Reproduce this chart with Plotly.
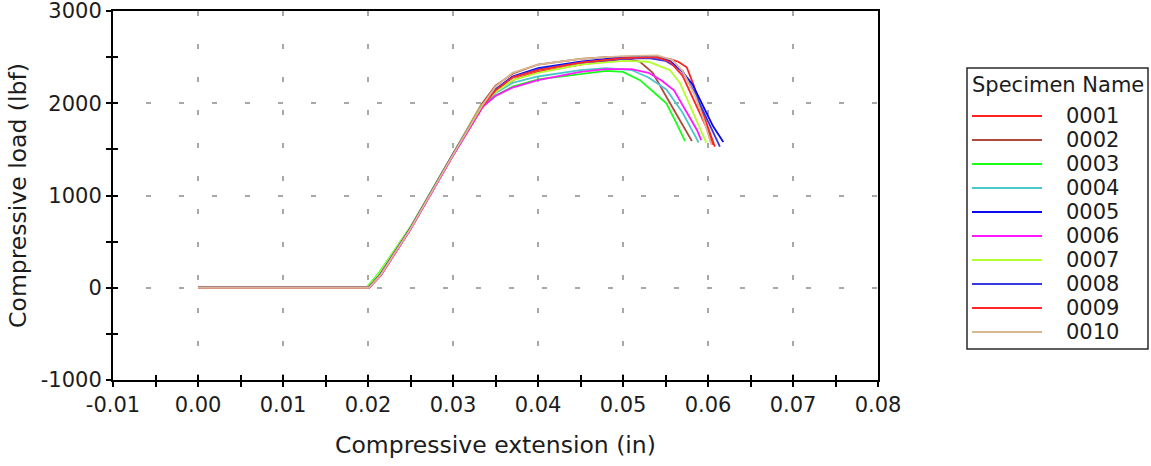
import plotly.graph_objects as go

# ---------------- data ----------------
names = ["0001", "0002", "0003", "0004", "0005", "0006", "0007", "0008", "0009", "0010"]
colors = ["#ff2020", "#b04a40", "#19ff19", "#4cc8c8", "#0a0aee", "#ff19ff",
          "#b4ff30", "#3838e0", "#ff2828", "#d8b890"]

x_0001 = [0.0, 0.0201, 0.0215, 0.025, 0.030, 0.0334, 0.0352, 0.0375, 0.040, 0.045, 0.050, 0.053, 0.0555, 0.0565, 0.0575, 0.0583, 0.0591, 0.0600, 0.0608]
y_0001 = [0, 0, 140, 640, 1440, 1960, 2150, 2270, 2340, 2420, 2480, 2500, 2480, 2450, 2390, 2200, 1970, 1730, 1530]

x_0002 = [0.0, 0.0200, 0.0214, 0.025, 0.030, 0.0333, 0.0350, 0.0370, 0.040, 0.045, 0.048, 0.050, 0.052, 0.0535, 0.0551, 0.0565, 0.0581]
y_0002 = [0, 0, 140, 650, 1450, 1980, 2190, 2320, 2420, 2480, 2500, 2490, 2450, 2330, 2070, 1850, 1590]

x_0003 = [0.0, 0.0198, 0.0212, 0.025, 0.030, 0.0334, 0.0350, 0.0370, 0.040, 0.045, 0.048, 0.050, 0.052, 0.0535, 0.0551, 0.0562, 0.0573]
y_0003 = [0, 0, 150, 660, 1450, 1960, 2080, 2180, 2260, 2320, 2350, 2340, 2250, 2130, 2000, 1800, 1590]

x_0004 = [0.0, 0.0200, 0.0214, 0.025, 0.030, 0.0334, 0.0350, 0.0370, 0.040, 0.045, 0.048, 0.051, 0.053, 0.0551, 0.057, 0.0589]
y_0004 = [0, 0, 140, 650, 1440, 1960, 2110, 2220, 2290, 2360, 2380, 2360, 2280, 2150, 1900, 1575]

x_0005 = [0.0, 0.0201, 0.0215, 0.025, 0.030, 0.0334, 0.0350, 0.0370, 0.040, 0.045, 0.050, 0.054, 0.0555, 0.057, 0.0582, 0.0595, 0.0606, 0.0618]
y_0005 = [0, 0, 140, 640, 1440, 1960, 2150, 2290, 2380, 2450, 2500, 2510, 2460, 2340, 2200, 1950, 1750, 1580]

x_0006 = [0.0, 0.0201, 0.0215, 0.025, 0.030, 0.0335, 0.0350, 0.0370, 0.040, 0.045, 0.048, 0.051, 0.053, 0.0545, 0.056, 0.0575, 0.0587, 0.0592]
y_0006 = [0, 0, 130, 630, 1430, 1960, 2080, 2170, 2250, 2340, 2370, 2370, 2330, 2250, 2140, 1900, 1710, 1600]

x_0007 = [0.0, 0.0199, 0.0213, 0.025, 0.030, 0.0333, 0.0350, 0.0370, 0.040, 0.045, 0.050, 0.053, 0.0555, 0.0567, 0.058, 0.0598]
y_0007 = [0, 0, 150, 660, 1450, 1970, 2120, 2250, 2330, 2420, 2460, 2450, 2360, 2220, 1950, 1570]

x_0008 = [0.0, 0.0200, 0.0214, 0.025, 0.030, 0.0334, 0.0350, 0.0370, 0.040, 0.045, 0.050, 0.053, 0.055, 0.057, 0.0585, 0.0600, 0.0614]
y_0008 = [0, 0, 140, 650, 1450, 1970, 2150, 2280, 2370, 2440, 2480, 2490, 2460, 2350, 2100, 1800, 1530]

x_0009 = [0.0, 0.0201, 0.0215, 0.025, 0.030, 0.0334, 0.0350, 0.0370, 0.040, 0.045, 0.050, 0.054, 0.0555, 0.057, 0.0585, 0.060, 0.0606]
y_0009 = [0, 0, 140, 640, 1440, 1960, 2140, 2280, 2360, 2440, 2490, 2500, 2450, 2300, 2000, 1700, 1550]

x_0010 = [0.0, 0.0201, 0.0215, 0.025, 0.030, 0.0334, 0.0350, 0.0370, 0.040, 0.045, 0.050, 0.054, 0.0558, 0.057, 0.0585, 0.0595, 0.0604]
y_0010 = [0, 0, 140, 640, 1440, 1970, 2180, 2330, 2420, 2480, 2510, 2520, 2470, 2350, 2080, 1820, 1550]

xs = [x_0001, x_0002, x_0003, x_0004, x_0005, x_0006, x_0007, x_0008, x_0009, x_0010]
ys = [y_0001, y_0002, y_0003, y_0004, y_0005, y_0006, y_0007, y_0008, y_0009, y_0010]

x_tickvals = [-0.01, 0.0, 0.01, 0.02, 0.03, 0.04, 0.05, 0.06, 0.07, 0.08]
x_ticktext = ["-0.01", "0.00", "0.01", "0.02", "0.03", "0.04", "0.05", "0.06", "0.07", "0.08"]
y_tickvals = [-1000, 0, 1000, 2000, 3000]
y_ticktext = ["-1000", "0", "1000", "2000", "3000"]

x_title = "Compressive extension (in)"
y_title = "Compressive load (lbf)"
legend_title = "Specimen Name"

# ---------------- figure ----------------
W, H = 1151, 466
ML, MR, MT, MB = 113, 273, 11, 86
PW, PH = W - ML - MR, H - MT - MB

FONT = "Verdana, DejaVu Sans, sans-serif"
TXT = "#1c1c1c"
TICKF = 21
TITLEF = 23.5
LEGF = 21

fig = go.Figure()
for n, c, x, y in zip(names, colors, xs, ys):
    fig.add_trace(go.Scatter(x=x, y=y, mode="lines", name=n,
                             line=dict(color=c, width=1.8), showlegend=False))

# dummy trace for inside-tick overlay axes
fig.add_trace(go.Scatter(x=[None], y=[None], xaxis="x2", yaxis="y2",
                         showlegend=False, hoverinfo="skip"))

grid = dict(showgrid=True, gridcolor="#a8a8a8", gridwidth=2, griddash="5px,28px")
tk = dict(ticklen=5, tickwidth=2, tickcolor="black")
fig.update_layout(
    width=W, height=H,
    margin=dict(l=ML, r=MR, t=MT, b=MB, pad=0, autoexpand=False),
    paper_bgcolor="white", plot_bgcolor="white",
    font=dict(family=FONT, color=TXT, size=TICKF),
    xaxis=dict(range=[-0.01, 0.08], tickmode="array", tickvals=x_tickvals, ticktext=x_ticktext,
               ticks="outside", **tk,
               minor=dict(dtick=0.005, tick0=0, ticks="outside", showgrid=False, **tk),
               showline=True, linecolor="black", linewidth=2, mirror=True,
               zeroline=False, automargin=False, tickfont=dict(size=TICKF),
               ticklabeloverflow="allow",
               title=dict(text=x_title, font=dict(size=TITLEF), standoff=20),
               **grid),
    yaxis=dict(range=[-1000, 3000], tickmode="array", tickvals=y_tickvals, ticktext=y_ticktext,
               ticks="outside", **tk,
               minor=dict(dtick=500, tick0=0, ticks="outside", showgrid=False, **tk),
               showline=True, linecolor="black", linewidth=2, mirror=True,
               zeroline=False, automargin=False, tickfont=dict(size=TICKF),
               ticklabeloverflow="allow",
               title=dict(text=y_title, font=dict(size=TITLEF), standoff=8),
               **grid),
    xaxis2=dict(overlaying="x", anchor="y", side="bottom", range=[-0.01, 0.08],
                tickmode="array", tickvals=x_tickvals,
                ticks="inside", **tk,
                minor=dict(dtick=0.005, tick0=0, ticks="inside", **tk),
                showticklabels=False, showgrid=False, showline=False, zeroline=False, automargin=False),
    yaxis2=dict(overlaying="y", anchor="x", side="left", range=[-1000, 3000],
                tickmode="array", tickvals=y_tickvals,
                ticks="inside", **tk,
                minor=dict(dtick=500, tick0=0, ticks="inside", **tk),
                showticklabels=False, showgrid=False, showline=False, zeroline=False, automargin=False),
)

# ---------------- custom legend (paper coords) ----------------
def px(xp):
    return (xp - ML) / PW

def py(yp):
    return (H - MB - yp) / PH

shapes = [dict(type="rect", xref="paper", yref="paper",
               x0=px(967), x1=px(1148), y0=py(349), y1=py(68),
               line=dict(color="#2a2a2a", width=1.5), fillcolor="white", layer="above")]
annotations = [dict(text=legend_title, xref="paper", yref="paper", x=px(970), y=py(85),
                    xanchor="left", yanchor="middle", showarrow=False,
                    font=dict(size=LEGF, family=FONT, color=TXT))]
row0, step = 116, 24
for i, (n, c) in enumerate(zip(names, colors)):
    yy = row0 + i * step
    shapes.append(dict(type="line", xref="paper", yref="paper",
                       x0=px(972), x1=px(1042), y0=py(yy), y1=py(yy),
                       line=dict(color=c, width=2), layer="above"))
    annotations.append(dict(text=n, xref="paper", yref="paper", x=px(1064), y=py(yy),
                            xanchor="left", yanchor="middle", showarrow=False,
                            font=dict(size=LEGF, family=FONT, color=TXT)))
fig.update_layout(shapes=shapes, annotations=annotations)

fig.write_html("out.html")
